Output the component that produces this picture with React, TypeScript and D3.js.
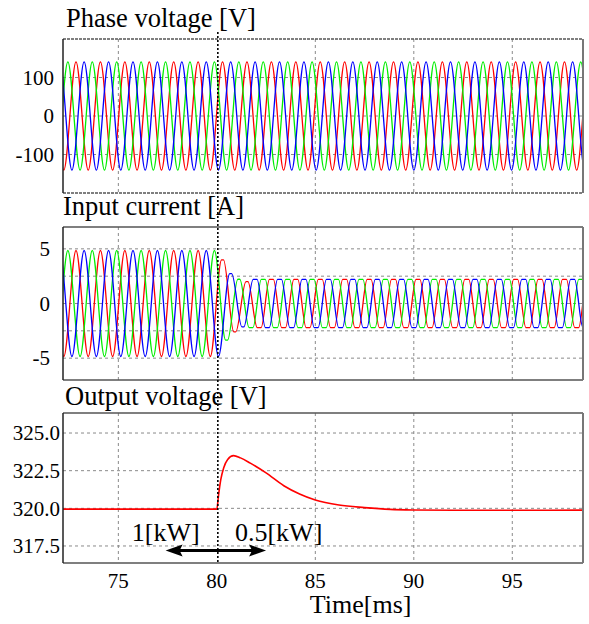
import React, { useEffect, useRef } from "react";
import * as d3 from "d3";

// axis ticks
const timeTicks = [75, 80, 85, 90, 95];
const timeGrid = [75, 85, 90, 95];
const voltageTicks = [100, 0, -100];
const currentTicks = [5, 0, -5];
const currentGrid = [5, 2.5, 0, -2.5, -5];
const outputTicks = [325, 322.5, 320, 317.5];

// three phase waveforms (red, green, blue)
const phaseColors = ["#ff0000", "#00ee00", "#0000ff"];
const phaseLag = [0, -1 / 3, 1 / 3]; // fraction of a period vs red
const periodMs = 1.24;
const firstRedPeak = 72.85;
const stepTime = 80;

const voltagePeak = 140.5;
const currentPeakBefore = 4.85;
const currentPeakAfter = 2.2;
// magnitude of the first extrema after the load step, in time order
const currentTransient = [4.0, 3.35, 2.74, 2.6, 2.22, 2.14, 2.0];

// output DC voltage
const outputT = [72, 80.0, 80.08, 80.2, 80.35, 80.55, 80.85, 81.2, 81.7, 82.5, 83.4, 84.2, 85.0, 86.2, 87.5, 88.8, 90, 92, 95, 99];
const outputV = [319.95, 319.95, 320.8, 321.9, 322.7, 323.25, 323.5, 323.35, 323.0, 322.35, 321.5, 320.95, 320.55, 320.22, 320.05, 319.93, 319.89, 319.87, 319.87, 319.88];

const W = 589;
const H = 624;
const left = 63;
const right = 583;
const font = "'Liberation Serif', 'Times New Roman', serif";

type Ext = { t: number; s: number; amp?: number; w?: number };

function extrema(phase: number): Ext[] {
  const out: Ext[] = [];
  const t0 = firstRedPeak + phaseLag[phase] * periodMs;
  for (let k = -4; ; k++) {
    const t = t0 + (k * periodMs) / 2;
    if (t > 100) break;
    out.push({ t, s: Math.abs(k) % 2 === 0 ? 1 : -1 });
  }
  return out;
}

const App = () => {
  const ref = useRef<SVGSVGElement>(null);

  useEffect(() => {
    const svg = d3.select(ref.current);
    svg.selectAll("*").remove();

    const x = d3.scaleLinear().domain([72.19, 98.59]).range([left, right]);

    const plain = (d: number) => String(d);
    const oneDec = (d: number) => d.toFixed(1);

    const panels = [
      { top: 39, bottom: 193, domain: [-200, 200], grid: voltageTicks, ticks: voltageTicks, fmt: plain, labelX: 54, title: "Phase voltage [V]", tx: 66, ty: 27, dashedEdge: true },
      { top: 227, bottom: 380, domain: [-7, 7], grid: currentGrid, ticks: currentTicks, fmt: plain, labelX: 50, title: "Input current [A]", tx: 63, ty: 215, dashedEdge: false },
      { top: 413, bottom: 563, domain: [316.37, 326.33], grid: outputTicks, ticks: outputTicks, fmt: oneDec, labelX: 60, title: "Output voltage [V]", tx: 65, ty: 405, dashedEdge: false },
    ];

    const scales = panels.map((p) =>
      d3.scaleLinear().domain(p.domain).range([p.bottom, p.top])
    );

    const defs = svg.append("defs");

    panels.forEach((p, i) => {
      const y = scales[i];
      const g = svg.append("g");

      defs
        .append("clipPath")
        .attr("id", `clip${i}`)
        .append("rect")
        .attr("x", left)
        .attr("y", p.top)
        .attr("width", right - left)
        .attr("height", p.bottom - p.top);

      // grid
      g.selectAll(".hg")
        .data(p.grid)
        .join("line")
        .attr("x1", left)
        .attr("x2", right)
        .attr("y1", (d) => y(d))
        .attr("y2", (d) => y(d))
        .attr("stroke", "#8a8a8a")
        .attr("stroke-dasharray", "3,3");
      g.selectAll(".vg")
        .data(timeGrid)
        .join("line")
        .attr("x1", (d) => x(d))
        .attr("x2", (d) => x(d))
        .attr("y1", p.top)
        .attr("y2", p.bottom)
        .attr("stroke", "#8a8a8a")
        .attr("stroke-dasharray", "3,3");

      // tick labels
      g.selectAll(".yl")
        .data(p.ticks)
        .join("text")
        .attr("x", p.labelX)
        .attr("y", (d) => y(d))
        .attr("dy", "0.35em")
        .attr("text-anchor", "end")
        .attr("font-family", font)
        .attr("font-size", 21)
        .text((d) => p.fmt(d));

      // title
      svg
        .append("text")
        .attr("x", p.tx)
        .attr("y", p.ty)
        .attr("font-family", font)
        .attr("font-size", 26.5)
        .text(p.title);
    });

    // waveforms
    const lines = svg.append("g");

    // phase voltage
    const vLine = d3
      .line<[number, number]>()
      .x((d) => x(d[0]))
      .y((d) => scales[0](d[1]))
      .curve(d3.curveMonotoneX);
    phaseColors.forEach((c, ph) => {
      const pts = extrema(ph).map((e) => [e.t, e.s * voltagePeak] as [number, number]);
      lines
        .append("path")
        .attr("clip-path", "url(#clip0)")
        .attr("d", vLine(pts))
        .attr("fill", "none")
        .attr("stroke", c)
        .attr("stroke-width", 1.3);
    });

    // input current
    const cur = phaseColors.map((_, ph) => extrema(ph));
    cur.flat().forEach((e) => {
      if (e.t <= stepTime + 0.1) {
        e.amp = currentPeakBefore;
        e.w = 0;
      }
    });
    cur
      .flat()
      .filter((e) => e.t > stepTime + 0.1)
      .sort((a, b) => a.t - b.t)
      .forEach((e, i) => {
        e.amp = i < currentTransient.length ? currentTransient[i] : currentPeakAfter;
        e.w = i < currentTransient.length ? 0.05 : 0.1;
      });
    const iLine = d3
      .line<[number, number]>()
      .x((d) => x(d[0]))
      .y((d) => scales[1](d[1]))
      .curve(d3.curveMonotoneX);
    phaseColors.forEach((c, ph) => {
      const pts: [number, number][] = [];
      cur[ph].forEach((e) => {
        const v = e.s * (e.amp as number);
        if (e.w) {
          pts.push([e.t - e.w, v], [e.t + e.w, v]);
        } else {
          pts.push([e.t, v]);
        }
      });
      lines
        .append("path")
        .attr("clip-path", "url(#clip1)")
        .attr("d", iLine(pts))
        .attr("fill", "none")
        .attr("stroke", c)
        .attr("stroke-width", 1.3);
    });

    // output voltage
    const oLine = d3
      .line<number>()
      .x((_, i) => x(outputT[i]))
      .y((d) => scales[2](d))
      .curve(d3.curveMonotoneX);
    lines
      .append("path")
      .attr("clip-path", "url(#clip2)")
      .attr("d", oLine(outputV))
      .attr("fill", "none")
      .attr("stroke", "#ff0000")
      .attr("stroke-width", 1.6);

    // frames
    panels.forEach((p) => {
      const f = svg.append("g");
      f.append("line").attr("x1", left).attr("x2", right).attr("y1", p.top).attr("y2", p.top)
        .attr("stroke", "#555").attr("stroke-width", 1.3)
        .attr("stroke-dasharray", p.dashedEdge ? "3,1" : null);
      f.append("line").attr("x1", left).attr("x2", right).attr("y1", p.bottom).attr("y2", p.bottom)
        .attr("stroke", "#555").attr("stroke-width", 1.3)
        .attr("stroke-dasharray", p.dashedEdge ? "3,1" : null);
      f.append("line").attr("x1", left).attr("x2", left).attr("y1", p.top).attr("y2", p.bottom)
        .attr("stroke", "#222").attr("stroke-width", 1.5);
      f.append("line").attr("x1", right).attr("x2", right).attr("y1", p.top).attr("y2", p.bottom)
        .attr("stroke", "#777").attr("stroke-width", 2);
    });

    // x ticks + axis title
    svg
      .selectAll(".xl")
      .data(timeTicks)
      .join("text")
      .attr("x", (d) => x(d))
      .attr("y", 588)
      .attr("text-anchor", "middle")
      .attr("font-family", font)
      .attr("font-size", 21)
      .text((d) => d);
    svg
      .append("text")
      .attr("x", x(87.3))
      .attr("y", 613)
      .attr("text-anchor", "middle")
      .attr("font-family", font)
      .attr("font-size", 26)
      .text("Time[ms]");

    // load step marker
    svg
      .append("line")
      .attr("x1", x(stepTime) + 1)
      .attr("x2", x(stepTime) + 1)
      .attr("y1", 32)
      .attr("y2", 564)
      .attr("stroke", "#000")
      .attr("stroke-width", 1.6)
      .attr("stroke-dasharray", "2,2");

    // power annotation
    const yo = scales[2];
    const ay = yo(317.2);
    const ax1 = x(77.4);
    const ax2 = x(82.5);
    svg.append("line").attr("x1", ax1 + 12).attr("x2", ax2 - 12).attr("y1", ay).attr("y2", ay)
      .attr("stroke", "#000").attr("stroke-width", 3);
    svg.append("path")
      .attr("d", `M${ax1},${ay} L${ax1 + 17},${ay - 6} L${ax1 + 14},${ay} L${ax1 + 17},${ay + 6} Z`)
      .attr("fill", "#000");
    svg.append("path")
      .attr("d", `M${ax2},${ay} L${ax2 - 17},${ay - 6} L${ax2 - 14},${ay} L${ax2 - 17},${ay + 6} Z`)
      .attr("fill", "#000");
    svg.append("text").attr("x", x(75.68)).attr("y", yo(317.83))
      .attr("font-family", font).attr("font-size", 26).text("1[kW]");
    svg.append("text").attr("x", x(80.92)).attr("y", yo(317.83))
      .attr("font-family", font).attr("font-size", 26).text("0.5[kW]");
  }, []);

  return (
    <svg
      ref={ref}
      width={W}
      height={H}
      style={{ position: "absolute", left: 0, top: 0, background: "#fff" }}
    />
  );
};

export default App;
